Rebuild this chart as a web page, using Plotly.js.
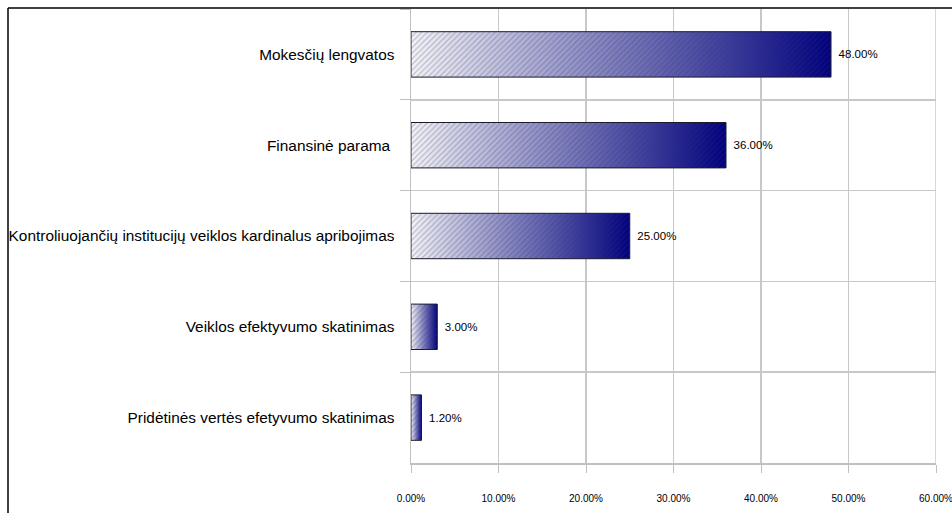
<!DOCTYPE html>
<html>
<head>
<meta charset="utf-8">
<script src="https://cdn.plot.ly/plotly-3.0.1.min.js"></script>
<style>
html,body{margin:0;padding:0;background:#fff;}
#chart{width:952px;height:513px;}
</style>
</head>
<body>
<div id="chart"></div>
<script>
// Data (top to bottom in the chart)
const categories = [
  "Mokesčių lengvatos",
  "Finansinė parama ",
  "Kontroliuojančių institucijų veiklos kardinalus apribojimas",
  "Veiklos efektyvumo skatinimas",
  "Pridėtinės vertės efetyvumo skatinimas"
];
const values = [48.0, 36.0, 25.0, 3.0, 1.2];
const valueLabels = values.map(v => v.toFixed(2) + "%");
const xTickVals = [0, 10, 20, 30, 40, 50, 60];
const xTickText = xTickVals.map(v => v.toFixed(2) + "%");
const xMax = 60;

const baseTrace = {
  type: "bar",
  orientation: "h",
  y: categories,
  x: values,
  text: valueLabels.map(t => "\u2009\u2009" + t),
  textposition: "outside",
  cliponaxis: false,
  textfont: {family: "Liberation Sans, Arial, sans-serif", size: 11.5, color: "#000"},
  marker: {color: "#7070b0", line: {color: "#1a1a2a", width: 1}},
  hoverinfo: "skip",
  width: 0.5
};
const hatchTrace = {
  type: "bar",
  orientation: "h",
  y: categories,
  x: values,
  marker: {
    color: "rgba(0,0,0,0)",
    line: {width: 0},
    pattern: {shape: "/", fgcolor: "rgba(50,50,90,0.28)", bgcolor: "rgba(0,0,0,0)", size: 4, solidity: 0.3}
  },
  hoverinfo: "skip",
  width: 0.5
};

const L = 411, R = 936, T = 9, B = 463, W = 952, H = 513;
const layout = {
  width: W,
  height: H,
  margin: {l: L, r: W - R, t: T, b: H - B},
  paper_bgcolor: "#fff",
  plot_bgcolor: "#fff",
  barmode: "overlay",
  showlegend: false,
  font: {family: "Liberation Sans, Arial, sans-serif", color: "#000"},
  xaxis: {
    range: [0, xMax],
    tickvals: xTickVals,
    ticktext: xTickText,
    ticks: "outside",
    ticklen: 8,
    tickcolor: "#c0c0c0",
    tickfont: {size: 10, color: "#000"},
    ticklabelstandoff: 17,
    ticklabeloverflow: "allow",
    showgrid: true,
    gridcolor: "#c8c8c8",
    gridwidth: 1.5,
    showline: true,
    linecolor: "#c0c0c0",
    linewidth: 1.5,
    zeroline: false,
    fixedrange: true
  },
  yaxis: {
    autorange: "reversed",
    type: "category",
    tickson: "boundaries",
    ticks: "outside",
    ticklen: 10,
    tickcolor: "#c0c0c0",
    tickfont: {size: 15.4, color: "#000"},
    ticklabelstandoff: 12,
    showgrid: true,
    gridcolor: "#c8c8c8",
    gridwidth: 1.5,
    showline: true,
    linecolor: "#c0c0c0",
    linewidth: 1.5,
    zeroline: false,
    fixedrange: true
  },
  shapes: [
    {
      type: "line", xref: "x", yref: "paper",
      x0: xMax, x1: xMax, y0: 0, y1: 1,
      line: {color: "#c8c8c8", width: 1.5}, layer: "below"
    },
    {
      type: "line", xref: "paper", yref: "paper",
      x0: (8 - L) / (R - L), x1: (8 - L) / (R - L),
      y0: -(H - B) / (B - T), y1: 1 + 1 / (B - T),
      line: {color: "#000", width: 1.5}
    },
    {
      type: "line", xref: "paper", yref: "paper",
      x0: (8 - L) / (R - L), x1: 1 + (W - R) / (R - L),
      y0: 1 + 1 / (B - T), y1: 1 + 1 / (B - T),
      line: {color: "#000", width: 1.5}
    }
  ]
};

const gd = document.getElementById("chart");
Plotly.newPlot(gd, [baseTrace, hatchTrace], layout, {staticPlot: true, displayModeBar: false}).then(() => {
  const svg = gd.querySelector("svg.main-svg");
  const defs = svg.querySelector("defs");
  const ns = "http://www.w3.org/2000/svg";
  const grad = document.createElementNS(ns, "linearGradient");
  grad.setAttribute("id", "barGrad");
  grad.setAttribute("x1", "0"); grad.setAttribute("y1", "0");
  grad.setAttribute("x2", "1"); grad.setAttribute("y2", "0");
  [["0", "#f4f4f8"], ["1", "#000080"]].forEach(([o, c]) => {
    const s = document.createElementNS(ns, "stop");
    s.setAttribute("offset", o);
    s.setAttribute("stop-color", c);
    grad.appendChild(s);
  });
  defs.appendChild(grad);
  const traces = svg.querySelectorAll(".barlayer .trace");
  if (traces.length) {
    traces[0].querySelectorAll(".point path").forEach(p => { p.style.fill = "url(#barGrad)"; });
  }
});
</script>
</body>
</html>
